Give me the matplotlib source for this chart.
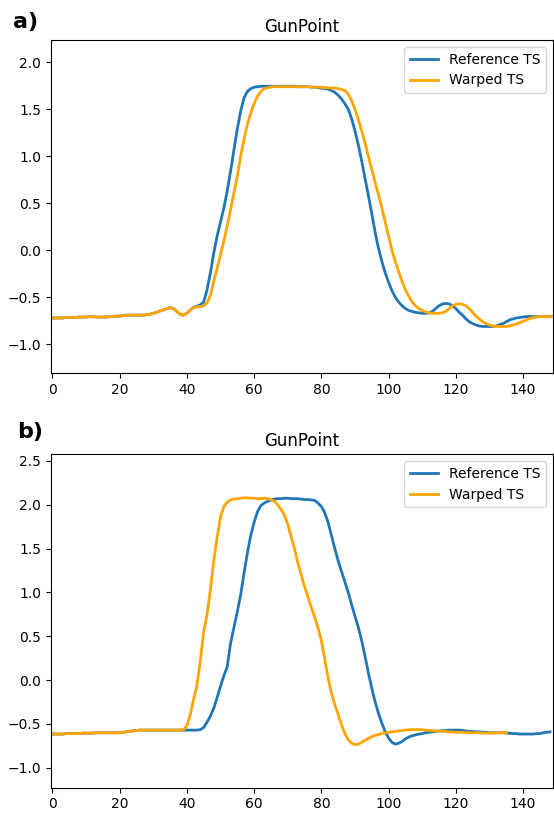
import matplotlib
matplotlib.use("Agg")
import matplotlib.pyplot as plt
import numpy as np

title = "GunPoint"
labels = ["Reference TS", "Warped TS"]
panel_tags = ["a)", "b)"]

# Panel a) values (index 0..149)
ref_a = [
    -0.72, -0.72, -0.72, -0.72, -0.715, -0.715, -0.715, -0.715, -0.71, -0.71,
    -0.71, -0.705, -0.705, -0.71, -0.71, -0.71, -0.71, -0.705, -0.705, -0.70,
    -0.70, -0.695, -0.69, -0.69, -0.69, -0.69, -0.69, -0.69, -0.685, -0.68,
    -0.67, -0.66, -0.645, -0.635, -0.62, -0.61, -0.62, -0.65, -0.68, -0.69,
    -0.67, -0.635, -0.605, -0.595, -0.58, -0.55, -0.42, -0.24, -0.03, 0.15,
    0.30, 0.45, 0.63, 0.84, 1.07, 1.29, 1.48, 1.62, 1.69, 1.72,
    1.735, 1.74, 1.745, 1.745, 1.745, 1.745, 1.745, 1.745, 1.745, 1.745,
    1.745, 1.745, 1.745, 1.74, 1.74, 1.74, 1.74, 1.735, 1.735, 1.73,
    1.725, 1.72, 1.715, 1.70, 1.68, 1.65, 1.61, 1.56, 1.50, 1.40,
    1.27, 1.12, 0.95, 0.76, 0.58, 0.39, 0.19, 0.02, -0.12, -0.24,
    -0.34, -0.43, -0.50, -0.55, -0.59, -0.62, -0.64, -0.65, -0.66, -0.665,
    -0.67, -0.67, -0.665, -0.65, -0.62, -0.59, -0.57, -0.565, -0.57, -0.59,
    -0.62, -0.66, -0.69, -0.73, -0.76, -0.78, -0.795, -0.805, -0.81, -0.81,
    -0.81, -0.81, -0.805, -0.79, -0.78, -0.76, -0.74, -0.73, -0.72, -0.715,
    -0.71, -0.705, -0.705, -0.705, -0.705, -0.705, -0.705, -0.705, -0.705, -0.705,
]
warp_a = [
    -0.72, -0.72, -0.72, -0.72, -0.715, -0.715, -0.715, -0.715, -0.71, -0.71,
    -0.71, -0.705, -0.705, -0.71, -0.71, -0.71, -0.71, -0.705, -0.705, -0.70,
    -0.70, -0.695, -0.69, -0.69, -0.69, -0.69, -0.69, -0.69, -0.685, -0.68,
    -0.67, -0.66, -0.645, -0.635, -0.62, -0.61, -0.62, -0.65, -0.68, -0.69,
    -0.67, -0.635, -0.61, -0.60, -0.60, -0.59, -0.56, -0.48, -0.33, -0.19,
    -0.05, 0.10, 0.26, 0.43, 0.61, 0.79, 1.00, 1.18, 1.34, 1.46,
    1.56, 1.64, 1.69, 1.72, 1.73, 1.735, 1.74, 1.74, 1.74, 1.74,
    1.74, 1.74, 1.74, 1.74, 1.74, 1.74, 1.74, 1.735, 1.735, 1.735,
    1.735, 1.73, 1.73, 1.725, 1.725, 1.72, 1.71, 1.70, 1.66, 1.59,
    1.50, 1.39, 1.27, 1.14, 1.00, 0.86, 0.72, 0.59, 0.45, 0.30,
    0.15, 0.0, -0.12, -0.23, -0.33, -0.42, -0.49, -0.55, -0.59, -0.62,
    -0.64, -0.655, -0.665, -0.67, -0.67, -0.67, -0.665, -0.65, -0.62, -0.59,
    -0.575, -0.57, -0.575, -0.59, -0.62, -0.66, -0.70, -0.73, -0.76, -0.78,
    -0.795, -0.805, -0.81, -0.81, -0.81, -0.81, -0.805, -0.795, -0.785, -0.77,
    -0.755, -0.74, -0.725, -0.715, -0.71, -0.705, -0.705, -0.705, -0.705, -0.705,
]

# Panel b) values
ref_b = [
    -0.615, -0.615, -0.615, -0.615, -0.61, -0.61, -0.61, -0.61, -0.61, -0.605,
    -0.605, -0.605, -0.605, -0.60, -0.60, -0.60, -0.60, -0.60, -0.60, -0.60,
    -0.60, -0.595, -0.59, -0.585, -0.58, -0.575, -0.57, -0.57, -0.57, -0.57,
    -0.57, -0.57, -0.57, -0.57, -0.57, -0.57, -0.57, -0.57, -0.57, -0.57,
    -0.57, -0.57, -0.57, -0.57, -0.565, -0.54, -0.48, -0.41, -0.32, -0.20,
    -0.07, 0.05, 0.15, 0.42, 0.60, 0.78, 0.97, 1.22, 1.45, 1.65,
    1.80, 1.92, 1.99, 2.02, 2.04, 2.055, 2.065, 2.07, 2.07, 2.075,
    2.075, 2.07, 2.07, 2.07, 2.065, 2.06, 2.06, 2.055, 2.05, 2.02,
    1.98, 1.91, 1.80, 1.65, 1.50, 1.36, 1.24, 1.12, 1.00, 0.86,
    0.73, 0.60, 0.45, 0.27, 0.08, -0.09, -0.25, -0.38, -0.49, -0.59,
    -0.66, -0.71, -0.73, -0.72, -0.70, -0.67, -0.65, -0.635, -0.625, -0.615,
    -0.61, -0.60, -0.595, -0.59, -0.585, -0.58, -0.575, -0.575, -0.57, -0.57,
    -0.57, -0.57, -0.575, -0.58, -0.585, -0.585, -0.59, -0.59, -0.595, -0.595,
    -0.60, -0.60, -0.60, -0.60, -0.60, -0.605, -0.605, -0.61, -0.61, -0.615,
    -0.615, -0.615, -0.615, -0.615, -0.61, -0.61, -0.60, -0.595, -0.59,
]
warp_b = [
    -0.615, -0.615, -0.615, -0.615, -0.61, -0.61, -0.61, -0.61, -0.61, -0.605,
    -0.605, -0.605, -0.605, -0.60, -0.60, -0.60, -0.60, -0.60, -0.60, -0.60,
    -0.60, -0.595, -0.59, -0.585, -0.58, -0.575, -0.57, -0.57, -0.57, -0.57,
    -0.57, -0.57, -0.57, -0.57, -0.57, -0.57, -0.57, -0.57, -0.57, -0.565,
    -0.52, -0.40, -0.22, -0.06, 0.22, 0.55, 0.75, 1.03, 1.36, 1.63,
    1.86, 1.98, 2.03, 2.055, 2.065, 2.07, 2.075, 2.08, 2.08, 2.075,
    2.075, 2.07, 2.07, 2.075, 2.07, 2.06, 2.04, 2.00, 1.95, 1.88,
    1.78, 1.64, 1.50, 1.34, 1.20, 1.07, 0.95, 0.83, 0.72, 0.60,
    0.45, 0.24, 0.03, -0.15, -0.28, -0.39, -0.51, -0.61, -0.68, -0.72,
    -0.735, -0.73, -0.71, -0.685, -0.665, -0.645, -0.63, -0.62, -0.61, -0.60,
    -0.595, -0.59, -0.585, -0.58, -0.575, -0.57, -0.565, -0.565, -0.565, -0.565,
    -0.565, -0.57, -0.575, -0.575, -0.58, -0.58, -0.585, -0.585, -0.59, -0.59,
    -0.595, -0.595, -0.595, -0.60, -0.60, -0.60, -0.60, -0.60, -0.605, -0.605,
    -0.605, -0.605, -0.60, -0.60, -0.60, -0.60,
]

xticks = [0, 20, 40, 60, 80, 100, 120, 140]
ylim_a = (-1.305, 2.237)
ylim_b = (-1.227, 2.576)
xlim = (-0.4, 148.8)

fig = plt.figure(figsize=(5.54, 8.17), dpi=100)
ax_a = fig.add_axes([51 / 554, 1 - 373 / 817, (552.7 - 51) / 554, (373 - 40) / 817])
ax_b = fig.add_axes([51 / 554, 1 - 787.7 / 817, (552.7 - 51) / 554, (787.7 - 454.3) / 817])

for ax, ref, warp, ylim in [(ax_a, ref_a, warp_a, ylim_a), (ax_b, ref_b, warp_b, ylim_b)]:
    ax.plot(np.arange(len(ref)), ref, color="#1f77b4", lw=2, label=labels[0])
    ax.plot(np.arange(len(warp)), warp, color="orange", lw=2, label=labels[1])
    ax.set_title(title, fontsize=12)
    ax.set_xlim(*xlim)
    ax.set_ylim(*ylim)
    ax.set_xticks(xticks)
    ax.legend(loc="upper right", fontsize=10)

fig.text(13 / 554, 1 - 28 / 817, panel_tags[0], fontsize=16, fontweight="bold", va="baseline")
fig.text(17 / 554, 1 - 438 / 817, panel_tags[1], fontsize=16, fontweight="bold", va="baseline")

fig.savefig("out.png", dpi=100)
